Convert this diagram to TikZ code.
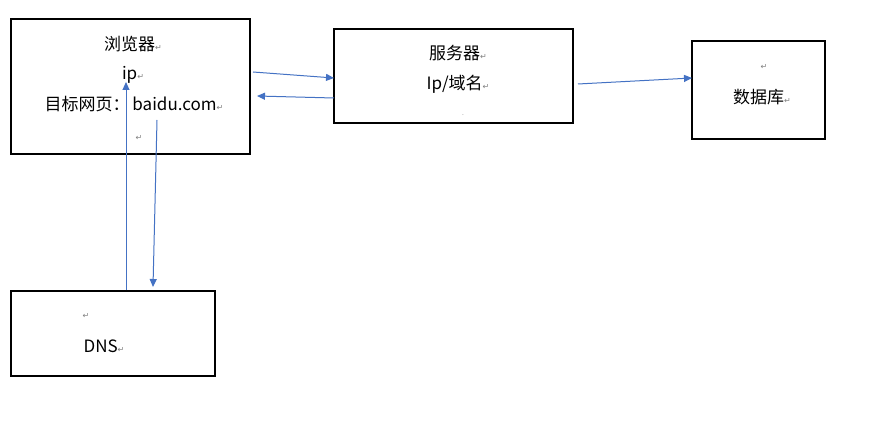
\documentclass[tikz,border=0pt]{standalone}
\usepackage{fontspec}
\setmainfont{Noto Sans CJK SC}
\newfontfamily\symf{DejaVu Sans}
\usetikzlibrary{arrows.meta}
\definecolor{arr}{HTML}{4472C4}
\newcommand{\parmk}{{\symf\fontsize{8}{8}\selectfont\color{gray}↵}}
\tikzset{box/.style={draw,line width=1.3pt,inner sep=0pt},
 txt/.style={font=\fontsize{17}{20}\selectfont,inner sep=0pt},
 con/.style={draw=arr,line width=1pt,-{Triangle[length=8pt,width=7pt]}}}
\begin{document}
\begin{tikzpicture}[x=1pt,y=-1pt]
\useasboundingbox[fill=white] (0,0) rectangle (882,430);
\node[box,minimum width=239pt,minimum height=135pt] (b) at (130.5,86.5) {};
\node[box,minimum width=239pt,minimum height=94pt] (s) at (453.5,76) {};
\node[box,minimum width=133pt,minimum height=98pt] (d) at (758.5,90) {};
\node[box,minimum width=204pt,minimum height=85pt] (n) at (113,333.5) {};
\node[txt] (t1) at (133,44) {浏览器\parmk};
\node[txt] (t2) at (133,75) {ip\parmk};
\node[txt] (t3) at (134,104) {目标网页：\,baidu.com\parmk};
\node[txt] (t4) at (139,138) {\parmk};
\node[txt] (t5) at (458,53) {服务器\parmk};
\node[txt] (t6) at (458,84) {Ip/域名\parmk};
\node[txt] (t7) at (463,115) {\tiny.};
\node[txt] (t8) at (764,67) {\parmk};
\node[txt] (t9) at (762,97) {数据库\parmk};
\node[txt] (t10) at (86,316) {\parmk};
\node[txt] (t11) at (104,346) {DNS\parmk};
\coordinate (a1) at (253,72); \coordinate (a2) at (334,78);
\coordinate (a3) at (334,98); \coordinate (a4) at (257,96);
\coordinate (a5) at (578,84); \coordinate (a6) at (692,78);
\coordinate (a7) at (126,290); \coordinate (a8) at (126,82);
\coordinate (a9) at (157,120); \coordinate (a10) at (153,287);
\draw[con] (a1) -- (a2);
\draw[con] (a3) -- (a4);
\draw[con] (a5) -- (a6);
\draw[con] (a7) -- (a8);
\draw[con] (a9) -- (a10);
\end{tikzpicture}
\end{document}
